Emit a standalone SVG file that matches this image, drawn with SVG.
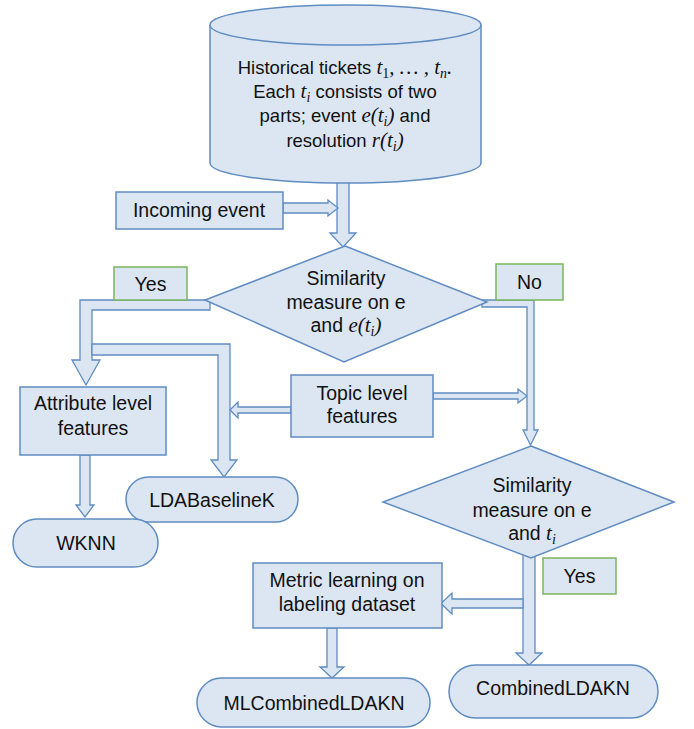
<svg xmlns="http://www.w3.org/2000/svg" width="694" height="729" viewBox="0 0 694 729">
<style>
.n{fill:#dce6f2;stroke:#5f8cc2;stroke-width:1.5}
.g{fill:#dce6f2;stroke:#7ab55c;stroke-width:1.5}
.a{fill:#dce6f2;stroke:#5f8cc2;stroke-width:1.3;stroke-linejoin:miter}
.t{font-family:"Liberation Sans",Arial,sans-serif;font-size:19.5px;fill:#111;text-anchor:middle}
.c{font-size:18.5px}
.m{font-family:"Liberation Serif","Times New Roman",serif;font-style:italic;font-size:21px}
.s{font-family:"Liberation Serif","Times New Roman",serif;font-size:14px}
</style>
<rect width="694" height="729" fill="#fff"/>
<g id="connectors">
<polygon class="a" points="337,175 349,175 349,233 356,233 343,247 330,233 337,233"/>
<polygon class="a" points="283,203 328,203 328,200 338,208 328,216 328,213 283,213"/>
<polygon class="a" points="210,300 80,300 80,360 72,360 86,385 100,360 92,360 92,310 210,310"/>
<polygon class="a" points="92,344 230,344 230,460 237,460 224,477 211,460 218,460 218,355 92,355"/>
<polygon class="a" points="80,455 90,455 90,505 94,505 85,517 76,505 80,505"/>
<polygon class="a" points="291,407 238,407 238,402 230,410 238,418 238,413 291,413"/>
<polygon class="a" points="433,393 518,393 518,389 527,396 518,403 518,399 433,399"/>
<polygon class="a" points="482,300 534,300 534,430 538,430 530.5,445 523,430 527,430 527,307 482,307"/>
<polygon class="a" points="523,550 535,550 535,653 542,653 529,665 516,653 523,653"/>
<polygon class="a" points="523,599 452,599 452,593 441,603.5 452,614 452,608 523,608"/>
<polygon class="a" points="327,628 337,628 337,667 344,667 332,678 320,667 327,667"/>
</g>
<g id="db">
<path class="n" d="M210,25 L210,163 A135.5,20 0 0 0 481,163 L481,25 A135.5,20 0 0 0 210,25 Z"/>
<path class="n" fill="none" d="M210,25 A135.5,20 0 0 0 481,25"/>
<text class="t c" x="345" y="74">Historical tickets <tspan class="m">t</tspan><tspan class="s" dy="4">1</tspan><tspan class="m" dy="-4">, … , t</tspan><tspan class="s m" dy="4">n</tspan><tspan class="m" dy="-4">.</tspan></text>
<text class="t c" x="345" y="98">Each <tspan class="m">t</tspan><tspan class="s m" dy="4">i</tspan><tspan dy="-4"> consists of two</tspan></text>
<text class="t c" x="345" y="122">parts; event <tspan class="m">e(t</tspan><tspan class="s m" dy="4">i</tspan><tspan class="m" dy="-4">)</tspan> and</text>
<text class="t c" x="345" y="147">resolution <tspan class="m">r(t</tspan><tspan class="s m" dy="4">i</tspan><tspan class="m" dy="-4">)</tspan></text>
</g>
<g id="incoming">
<rect class="n" x="116" y="192" width="167" height="37"/>
<text class="t" x="199" y="216.5">Incoming event</text>
</g>
<g id="decision1">
<polygon class="n" points="345,246 487,302 344,362 205,300"/>
<text class="t" x="346" y="284.5">Similarity</text>
<text class="t" x="346" y="308.5">measure on e</text>
<text class="t" x="346" y="332">and <tspan class="m">e(t</tspan><tspan class="s m" dy="4">i</tspan><tspan class="m" dy="-4">)</tspan></text>
</g>
<g id="yes1">
<rect class="g" x="114" y="267" width="73" height="33"/>
<text class="t" x="150.5" y="290.5">Yes</text>
</g>
<g id="no">
<rect class="g" x="496" y="264" width="67" height="36"/>
<text class="t" x="529.5" y="289">No</text>
</g>
<g id="attr">
<rect class="n" x="20" y="387" width="146" height="68"/>
<text class="t" x="93" y="410">Attribute level</text>
<text class="t" x="93" y="435">features</text>
</g>
<g id="topic">
<rect class="n" x="291" y="375" width="142" height="62"/>
<text class="t" x="362" y="399.5">Topic level</text>
<text class="t" x="362" y="423">features</text>
</g>
<g id="lda">
<rect class="n" x="126" y="477" width="172" height="45" rx="22.5"/>
<text class="t" x="212" y="507">LDABaselineK</text>
</g>
<g id="wknn">
<rect class="n" x="13" y="519" width="145" height="48" rx="24"/>
<text class="t" x="86" y="550">WKNN</text>
</g>
<g id="decision2">
<polygon class="n" points="531,446 674,502 531,558 383,502"/>
<text class="t" x="532" y="492">Similarity</text>
<text class="t" x="532" y="516.5">measure on e</text>
<text class="t" x="532" y="540">and <tspan class="m">t</tspan><tspan class="s m" dy="4">i</tspan></text>
</g>
<g id="yes2">
<rect class="g" x="543" y="558" width="73" height="36"/>
<text class="t" x="579.5" y="583">Yes</text>
</g>
<g id="metric">
<rect class="n" x="253" y="563" width="189" height="65"/>
<text class="t" x="347" y="587">Metric learning on</text>
<text class="t" x="347" y="611">labeling dataset</text>
</g>
<g id="mlcombined">
<rect class="n" x="197" y="678" width="233" height="49" rx="24.5"/>
<text class="t" x="314" y="710">MLCombinedLDAKN</text>
</g>
<g id="combined">
<rect class="n" x="449" y="665" width="209" height="53" rx="26.5"/>
<text class="t" x="553" y="695">CombinedLDAKN</text>
</g>
</svg>
